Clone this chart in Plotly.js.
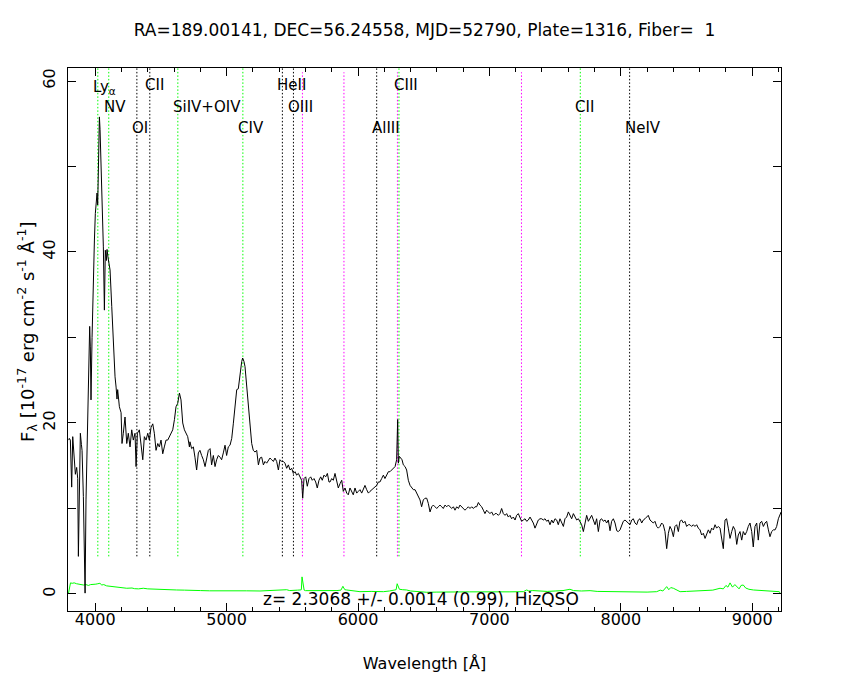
<!DOCTYPE html>
<html>
<head>
<meta charset="utf-8">
<script src="https://cdn.plot.ly/plotly-3.0.1.min.js"></script>
<style>
  html, body { margin: 0; padding: 0; background: #ffffff; }
  #plot { width: 850px; height: 680px; }
</style>
</head>
<body>
<div id="plot"></div>
<script>
// Spectrum of SDSS object, Plate 1316 / Fiber 1 (flux in 1e-17 erg/cm^2/s/A)
const wave = [
  3799, 3803, 3811, 3821, 3829, 3841, 3849, 3859, 3867, 3872, 3879, 3887, 3895, 3900, 3910, 3918,
  3923, 3930, 3938, 3943, 3951, 3958, 3963, 3968, 3976, 3981, 3989, 3994, 4001, 4006, 4014, 4019,
  4027, 4032, 4037, 4044, 4049, 4057, 4062, 4070, 4077, 4085, 4090, 4098, 4103, 4113, 4126, 4138,
  4151, 4159, 4166, 4171, 4184, 4197, 4204, 4214, 4227, 4240, 4252, 4265, 4278, 4290, 4303, 4311,
  4321, 4336, 4349, 4362, 4374, 4387, 4400, 4412, 4425, 4438, 4450, 4463, 4476, 4488, 4501, 4514,
  4526, 4539, 4552, 4564, 4577, 4590, 4603, 4615, 4628, 4641, 4653, 4666, 4679, 4691, 4704, 4717,
  4721, 4734, 4747, 4759, 4772, 4785, 4797, 4810, 4823, 4836, 4848, 4861, 4874, 4886, 4899, 4912,
  4924, 4937, 4950, 4962, 4975, 4988, 5000, 5013, 5026, 5039, 5051, 5064, 5077, 5089, 5102, 5115,
  5122, 5132, 5140, 5153, 5165, 5178, 5191, 5203, 5216, 5229, 5242, 5254, 5267, 5280, 5292, 5305,
  5318, 5330, 5343, 5356, 5368, 5381, 5394, 5406, 5419, 5432, 5444, 5457, 5470, 5483, 5495, 5508,
  5521, 5533, 5546, 5559, 5571, 5579, 5589, 5602, 5614, 5627, 5640, 5652, 5665, 5678, 5690, 5703,
  5716, 5728, 5741, 5754, 5767, 5779, 5787, 5800, 5812, 5825, 5838, 5850, 5863, 5876, 5888, 5901,
  5914, 5926, 5939, 5952, 5964, 5977, 5990, 6002, 6015, 6028, 6041, 6053, 6066, 6079, 6091, 6104,
  6117, 6129, 6142, 6155, 6167, 6180, 6193, 6205, 6218, 6231, 6243, 6256, 6269, 6282, 6294, 6299,
  6302, 6307, 6314, 6325, 6335, 6345, 6358, 6370, 6383, 6396, 6408, 6421, 6434, 6446, 6459, 6472,
  6484, 6497, 6510, 6523, 6535, 6548, 6561, 6573, 6586, 6599, 6611, 6624, 6637, 6649, 6662, 6675,
  6688, 6700, 6713, 6726, 6738, 6751, 6764, 6776, 6801, 6814, 6827, 6840, 6852, 6865, 6878, 6890,
  6903, 6916, 6928, 6941, 6954, 6966, 6979, 6992, 7004, 7017, 7030, 7043, 7055, 7068, 7080, 7093,
  7106, 7119, 7131, 7144, 7157, 7169, 7182, 7195, 7207, 7220, 7233, 7245, 7258, 7271, 7284, 7296,
  7309, 7322, 7334, 7347, 7360, 7372, 7385, 7398, 7410, 7423, 7436, 7448, 7461, 7474, 7486, 7499,
  7512, 7524, 7537, 7550, 7563, 7575, 7588, 7601, 7613, 7626, 7639, 7651, 7664, 7677, 7689, 7702,
  7715, 7727, 7740, 7753, 7766, 7778, 7791, 7804, 7816, 7829, 7842, 7854, 7867, 7880, 7892, 7905,
  7918, 7930, 7943, 7956, 7969, 7981, 7994, 8006, 8019, 8032, 8044, 8057, 8070, 8083, 8095, 8108,
  8121, 8133, 8146, 8159, 8171, 8184, 8197, 8209, 8222, 8235, 8247, 8260, 8273, 8285, 8298, 8311,
  8323, 8336, 8349, 8362, 8374, 8387, 8400, 8412, 8425, 8438, 8450, 8463, 8476, 8488, 8501, 8514,
  8526, 8539, 8552, 8564, 8577, 8590, 8603, 8615, 8628, 8641, 8653, 8666, 8679, 8691, 8704, 8717,
  8729, 8742, 8755, 8767, 8780, 8793, 8805, 8818, 8831, 8844, 8856, 8869, 8882, 8894, 8907, 8920,
  8932, 8945, 8958, 8970, 8983, 8996, 9008, 9021, 9034, 9046, 9059, 9072, 9085, 9097, 9110, 9123,
  9135, 9148, 9161, 9174, 9186, 9199, 9212, 9220
];
const flux = [
  18.0, 18.2, 18.0, 12.5, 18.4, 15.7, 14.0, 14.8, 13.5, 4.4, 12.0, 18.8, 17.5, 16.8, 11.4, 6.0,
  0.1, 11.0, 17.0, 20.4, 24.5, 31.3, 28.9, 22.7, 30.0, 34.4, 38.5, 41.4, 44.5, 45.7, 46.9, 45.5,
  52.0, 55.8, 54.3, 51.0, 48.0, 43.5, 40.6, 33.2, 40.2, 39.0, 40.3, 39.3, 38.7, 37.9, 33.6, 29.3,
  25.4, 24.2, 22.8, 23.9, 21.9, 21.2, 17.6, 18.8, 20.7, 17.6, 18.8, 17.2, 19.2, 18.0, 18.8, 14.9,
  18.8, 19.2, 17.2, 15.7, 18.4, 18.0, 18.8, 18.0, 19.5, 19.9, 18.8, 16.8, 17.6, 17.2, 18.0, 16.4,
  17.2, 18.0, 18.0, 18.4, 18.8, 19.2, 20.4, 21.9, 22.3, 23.5, 22.7, 20.0, 19.2, 18.8, 18.4, 17.2,
  17.8, 17.0, 17.2, 16.0, 14.5, 16.5, 16.8, 16.2, 15.7, 14.9, 15.9, 16.8, 17.0, 15.1, 16.2, 14.9,
  15.7, 16.2, 16.0, 15.7, 16.5, 17.4, 16.2, 17.2, 17.4, 18.2, 19.9, 21.9, 23.9, 24.0, 25.8, 27.2,
  27.6, 27.2, 26.6, 24.3, 22.3, 19.6, 17.6, 16.8, 16.6, 16.8, 15.1, 15.9, 16.0, 15.1, 15.5, 15.3,
  15.7, 15.9, 15.7, 15.5, 15.9, 15.5, 14.5, 15.7, 15.5, 15.5, 15.3, 14.7, 15.1, 14.5, 14.7, 14.1,
  14.3, 13.9, 14.1, 13.7, 13.3, 11.2, 13.5, 13.7, 12.6, 13.5, 13.7, 13.3, 13.5, 13.1, 12.4, 13.3,
  13.7, 13.3, 13.9, 13.7, 14.1, 13.1, 13.1, 13.5, 13.3, 14.1, 13.3, 12.4, 12.9, 13.3, 12.0, 12.4,
  11.8, 11.6, 12.4, 12.0, 11.6, 12.4, 11.8, 12.0, 12.2, 11.8, 12.4, 12.7, 12.2, 11.8, 12.0, 12.2,
  12.4, 12.6, 12.7, 13.1, 13.1, 13.5, 13.9, 13.5, 13.9, 14.3, 14.3, 14.5, 14.7, 14.9, 15.7, 18.6,
  20.4, 15.3, 16.1, 15.9, 15.7, 15.1, 14.9, 14.5, 13.3, 12.7, 12.4, 12.2, 12.2, 11.8, 11.4, 11.0,
  10.2, 11.0, 11.2, 11.2, 10.6, 9.6, 10.2, 10.4, 10.2, 10.0, 10.2, 10.4, 10.2, 10.0, 10.4, 10.2,
  10.4, 10.2, 10.0, 10.2, 9.8, 10.2, 10.0, 10.4, 10.0, 9.8, 10.0, 10.2, 10.0, 10.2, 10.0, 10.2,
  10.2, 10.7, 10.4, 10.2, 9.8, 9.4, 9.8, 9.6, 9.4, 9.6, 9.2, 9.4, 9.4, 9.2, 9.4, 10.0,
  9.4, 9.2, 9.4, 9.0, 9.2, 8.8, 9.0, 8.65, 9.2, 9.4, 8.8, 8.5, 8.65, 8.8, 8.5, 8.65,
  9.0, 8.65, 8.3, 7.7, 8.3, 8.65, 8.8, 8.8, 8.65, 8.8, 8.5, 8.65, 8.1, 8.65, 8.3, 8.8,
  8.65, 8.1, 8.8, 8.3, 7.9, 8.8, 9.0, 9.6, 9.2, 8.8, 9.4, 9.0, 8.65, 8.8, 8.5, 8.1,
  7.3, 8.3, 9.2, 8.5, 8.8, 9.2, 8.65, 8.1, 8.8, 7.3, 8.65, 8.8, 8.5, 8.65, 8.3, 8.65,
  7.4, 8.5, 8.8, 8.3, 7.4, 7.3, 7.5, 8.1, 8.5, 8.65, 8.5, 8.3, 8.1, 8.65, 8.8, 8.3,
  8.1, 8.65, 8.8, 8.3, 8.65, 8.8, 9.0, 9.2, 8.65, 8.5, 8.3, 8.5, 7.9, 7.7, 7.9, 8.3,
  8.1, 7.3, 5.3, 7.1, 7.9, 7.5, 6.7, 7.9, 8.1, 7.3, 8.5, 8.65, 8.3, 8.5, 7.9, 8.1,
  8.1, 7.9, 8.1, 7.9, 8.1, 7.7, 7.5, 6.9, 7.1, 6.5, 6.9, 7.5, 7.1, 7.7, 7.5, 8.1,
  7.7, 7.9, 7.7, 6.3, 5.3, 8.65, 8.8, 7.7, 6.5, 7.3, 7.9, 7.5, 5.8, 6.9, 7.3, 6.3,
  7.3, 6.9, 7.3, 7.9, 8.3, 7.3, 5.5, 7.9, 8.3, 6.3, 8.3, 8.5, 7.9, 8.3, 8.5, 7.5,
  6.7, 7.3, 7.5, 7.5, 7.9, 8.8, 9.4, 9.6
];

// 1-sigma noise spectrum
const errWave = [
  3797, 3812, 3825, 3840, 3858, 3872, 3890, 3910, 3930, 3948, 3965, 3986, 4005, 4020, 4036, 4050,
  4065, 4087, 4110, 4135, 4163, 4200, 4240, 4280, 4300, 4330, 4366, 4400, 4450, 4493, 4520, 4560,
  4620, 4680, 4747, 4800, 4870, 4950, 5000, 5080, 5150, 5254, 5330, 5400, 5457, 5480, 5508, 5540,
  5559, 5569, 5574, 5579, 5584, 5590, 5600, 5680, 5762, 5840, 5870, 5885, 5892, 5900, 5914, 5960,
  6015, 6100, 6193, 6240, 6269, 6290, 6298, 6305, 6315, 6340, 6370, 6400, 6460, 6523, 6600, 6700,
  6780, 6850, 6950, 7050, 7150, 7258, 7284, 7300, 7330, 7385, 7440, 7500, 7560, 7613, 7640, 7700,
  7766, 7820, 7893, 7950, 8020, 8146, 8200, 8273, 8300, 8320, 8349, 8365, 8380, 8400, 8420, 8451,
  8500, 8560, 8654, 8700, 8755, 8780, 8800, 8815, 8831, 8850, 8868, 8882, 8900, 8915, 8932, 8950,
  8975, 9009, 9080, 9161, 9206, 9212
];
const errFlux = [
  0.1, 1.3, 1.25, 1.3, 1.2, 1.15, 1.05, 1.05, 1.1, 1.0, 1.1, 1.1, 1.15, 1.2, 1.25, 1.05,
  1.1, 0.95, 0.9, 0.85, 0.78, 0.72, 0.67, 0.7, 0.62, 0.6, 0.67, 0.6, 0.55, 0.55, 0.5, 0.5,
  0.47, 0.45, 0.39, 0.4, 0.37, 0.39, 0.39, 0.35, 0.37, 0.35, 0.38, 0.4, 0.5, 0.4, 0.39, 0.45,
  0.47, 0.5, 2.0, 1.6, 1.2, 0.45, 0.39, 0.38, 0.35, 0.4, 0.45, 0.9, 0.7, 0.5, 0.47, 0.35,
  0.27, 0.3, 0.27, 0.35, 0.39, 0.5, 1.2, 0.9, 0.55, 0.5, 0.47, 0.35, 0.28, 0.2, 0.22, 0.2,
  0.22, 0.25, 0.25, 0.22, 0.25, 0.27, 0.47, 0.35, 0.4, 0.35, 0.3, 0.35, 0.4, 0.55, 0.4, 0.35,
  0.39, 0.3, 0.27, 0.3, 0.25, 0.2, 0.22, 0.27, 0.45, 0.35, 0.86, 0.5, 0.75, 0.67, 0.5, 0.27,
  0.3, 0.35, 0.35, 0.45, 0.67, 0.6, 1.0, 0.8, 1.3, 0.8, 1.1, 0.9, 0.6, 1.0, 1.05, 0.7,
  0.55, 0.47, 0.4, 0.35, 0.27, 0.1
];

// Redshifted emission lines (z = 2.3068), observed wavelengths in Angstrom
const lineWave = [4019.9, 4103.1, 4317.1, 4415.6, 4628.9, 5123.8, 5424.5, 5508.6, 6142.1, 6311.8, 7691.6, 8067.0];
const lineName = ['Ly<sub>α</sub>', 'NV', 'OI', 'CII', 'SiIV+OIV', 'CIV', 'HeII', 'OIII', 'AlIII', 'CIII', 'CII', 'NeIV'];
const lineStrong = [true, true, false, false, true, true, false, false, false, true, true, false];
// Night-sky lines
const skyWave = [5577, 5893, 6300, 7244];

const zText = 'z= 2.3068 +/- 0.0014 (0.99), HizQSO';
const titleText = 'RA=189.00141, DEC=56.24558, MJD=52790, Plate=1316, Fiber=\u00a0\u00a01';
const xTitle = 'Wavelength [Å]';
const yTitle = 'F<sub>λ</sub> [10<sup>-17</sup> erg cm<sup>-2</sup> s<sup>-1</sup> Å<sup>-1</sup>]';

const GREEN = '#00ff00';
const MAGENTA = '#ff00ff';
const FONT = 'DejaVu Sans, Verdana, sans-serif';
const X_RANGE = [3793, 9219];
const Y_RANGE = [-1.99, 61.52];
const LINE_BOTTOM = 4.4;
const ROW_Y = [0.9687, 0.9282, 0.8895];
const DOT = '1.5px,2px';

const shapes = [];
lineWave.forEach((w, i) => {
  shapes.push({
    type: 'line', xref: 'x', yref: 'y', layer: 'below',
    x0: w, x1: w, y0: LINE_BOTTOM, y1: Y_RANGE[1],
    line: { color: lineStrong[i] ? GREEN : '#000000', width: 1, dash: DOT }
  });
});
skyWave.forEach(w => {
  shapes.push({
    type: 'line', xref: 'x', yref: 'y', layer: 'below',
    x0: w, x1: w, y0: LINE_BOTTOM, y1: Y_RANGE[1] - 0.5,
    line: { color: MAGENTA, width: 1, dash: DOT }
  });
});

const annotations = lineWave.map((w, i) => ({
  x: w, xref: 'x', y: ROW_Y[i % 3], yref: 'paper',
  xanchor: 'left', yanchor: 'middle', xshift: -7,
  yshift: i === 0 ? -3 : 0,
  text: lineName[i], showarrow: false,
  font: { family: FONT, size: 15, color: '#000000' }
}));
// redshift summary
annotations.push({
  x: 5275, xref: 'x', y: -0.55, yref: 'y',
  xanchor: 'left', yanchor: 'middle', xshift: -2,
  text: zText, showarrow: false,
  font: { family: FONT, size: 17, color: '#000000' }
});
// flux-axis title
annotations.push({
  x: 0, xref: 'paper', y: 0.514, yref: 'paper',
  xanchor: 'center', yanchor: 'middle', xshift: -41,
  textangle: -90, text: yTitle, showarrow: false,
  font: { family: FONT, size: 18, color: '#000000' }
});

const traces = [
  {
    x: errWave, y: errFlux, type: 'scatter', mode: 'lines',
    line: { color: GREEN, width: 1 }, hoverinfo: 'skip'
  },
  {
    x: wave, y: flux, type: 'scatter', mode: 'lines',
    line: { color: '#000000', width: 1 }, hoverinfo: 'skip'
  }
];

const axisCommon = {
  showline: true, linecolor: '#000000', linewidth: 1, mirror: 'ticks',
  ticks: 'inside', tickcolor: '#000000', tickwidth: 1,
  showgrid: false, zeroline: false,
  tickfont: { family: FONT, size: 16, color: '#000000' }
};

const layout = {
  width: 850, height: 680,
  margin: { l: 68, r: 69, t: 68, b: 69 },
  paper_bgcolor: '#ffffff', plot_bgcolor: '#ffffff',
  font: { family: FONT, size: 16, color: '#000000' },
  showlegend: false, hovermode: false,
  title: {
    text: titleText, xref: 'paper', x: 0.5, xanchor: 'center',
    yref: 'container', y: 0.956, yanchor: 'middle',
    font: { family: FONT, size: 17, color: '#000000' }
  },
  xaxis: Object.assign({}, axisCommon, {
    range: X_RANGE, tick0: 0, dtick: 1000, ticklen: 8,
    ticklabelstandoff: -6,
    minor: { dtick: 200, ticklen: 4, ticks: 'inside', tickcolor: '#000000', tickwidth: 1, showgrid: false },
    title: { text: xTitle, font: { family: FONT, size: 16, color: '#000000' } }
  }),
  yaxis: Object.assign({}, axisCommon, {
    range: Y_RANGE, tick0: 0, dtick: 20, ticklen: 8, tickangle: -90,
    ticklabelstandoff: 6,
    minor: { dtick: 10, ticklen: 8, ticks: 'inside', tickcolor: '#000000', tickwidth: 1, showgrid: false }
  }),
  shapes: shapes,
  annotations: annotations
};

Plotly.newPlot('plot', traces, layout, { staticPlot: true, displayModeBar: false });
</script>
</body>
</html>
